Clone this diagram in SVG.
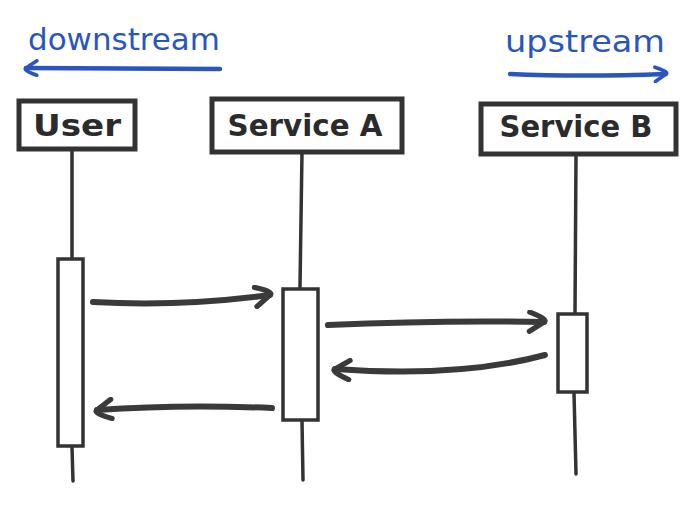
<svg xmlns="http://www.w3.org/2000/svg" width="700" height="506" viewBox="0 0 700 506">
<defs>
<style>
.box{fill:#fff;stroke:#333;stroke-width:5}
.act{fill:#fff;stroke:#333;stroke-width:3.5}
.life{stroke:#333;stroke-width:3.5;fill:none;stroke-linecap:round}
.msg{stroke:#3a3a3a;stroke-width:6;fill:none;stroke-linecap:round}
.blue{stroke:#2a55bd;stroke-width:4.5;fill:none;stroke-linecap:round}
.lbl{font-family:"DejaVu Sans",sans-serif;font-size:30px;font-weight:bold;fill:#2b2b2b}
.blbl{font-family:"DejaVu Sans",sans-serif;font-size:30px;fill:#2a55bd}
</style>
<marker id="ah" viewBox="0 0 10 10" refX="8" refY="5" markerWidth="4" markerHeight="4" orient="auto" markerUnits="strokeWidth">
<path d="M2,1 Q10,4 8,5 L2,9" fill="none" stroke="#3a3a3a" stroke-width="2.2" stroke-linecap="round"/>
</marker>
<marker id="bh" viewBox="0 0 10 10" refX="8" refY="5" markerWidth="4" markerHeight="4" orient="auto" markerUnits="strokeWidth">
<path d="M2,1 Q10,4 8,5 L2,9" fill="none" stroke="#2a55bd" stroke-width="2" stroke-linecap="round"/>
</marker>
</defs>
<rect width="700" height="506" fill="#fff"/>
<g id="legend-downstream">
<text class="blbl" x="28" y="50" textLength="192" lengthAdjust="spacingAndGlyphs">downstream</text>
<path class="blue" d="M220,69 L26,68" marker-end="url(#bh)"/>
</g>
<g id="legend-upstream">
<text class="blbl" x="505" y="52" textLength="160" lengthAdjust="spacingAndGlyphs">upstream</text>
<path class="blue" d="M510,74 Q580,77 666,74" marker-end="url(#bh)"/>
</g>
<g id="user">
<line class="life" x1="72" y1="150" x2="72" y2="258"/>
<line class="life" x1="72" y1="447" x2="73" y2="481"/>
<rect class="box" x="19" y="101" width="116" height="48"/>
<text class="lbl" x="77" y="136" text-anchor="middle" textLength="88" lengthAdjust="spacingAndGlyphs">User</text>
<rect class="act" x="58" y="259" width="25" height="187"/>
</g>
<g id="service-a">
<line class="life" x1="302" y1="152" x2="300" y2="287"/>
<line class="life" x1="302" y1="421" x2="303" y2="480"/>
<rect class="box" x="212" y="99" width="190" height="53"/>
<text class="lbl" x="305" y="136" text-anchor="middle" textLength="155" lengthAdjust="spacingAndGlyphs">Service A</text>
<rect class="act" x="283" y="289" width="35" height="131"/>
</g>
<g id="service-b">
<line class="life" x1="576" y1="155" x2="575" y2="313"/>
<line class="life" x1="574" y1="393" x2="576" y2="474"/>
<rect class="box" x="481" y="104" width="195" height="50"/>
<text class="lbl" x="576" y="137" text-anchor="middle" textLength="153" lengthAdjust="spacingAndGlyphs">Service B</text>
<rect class="act" x="558" y="314" width="29" height="78"/>
</g>
<g id="connectors">
<path class="msg" d="M93,302 Q180,307 270,295" marker-end="url(#ah)"/>
<path class="msg" d="M328,325 Q440,320 544,322" marker-end="url(#ah)"/>
<path class="msg" d="M545,355 Q460,378 335,369" marker-end="url(#ah)"/>
<path class="msg" d="M272,408 Q180,404 97,410" marker-end="url(#ah)"/>
</g>
</svg>
